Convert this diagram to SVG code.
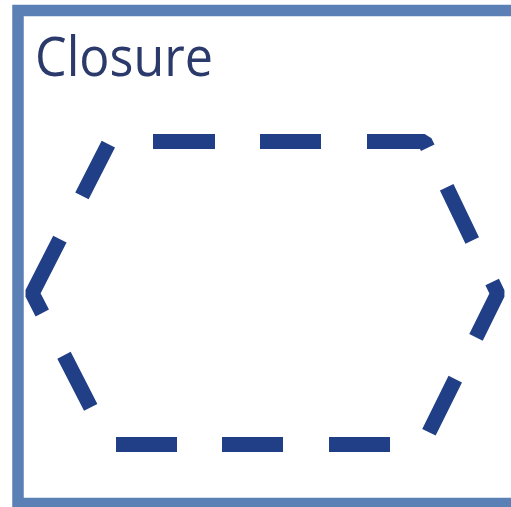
<svg xmlns="http://www.w3.org/2000/svg" width="511" height="507" viewBox="0 0 511 507">
  <style>
    .frame { fill: none; stroke: #5B80B5; stroke-width: 11.5; }
    .title { font-family: "Open Sans", "Liberation Sans", sans-serif; font-size: 55px; fill: #2B3A6B; }
    .dashed { fill: none; stroke: #213F87; stroke-width: 15; stroke-linejoin: bevel; stroke-linecap: butt; }
  </style>
  <rect width="511" height="507" fill="#FFFFFF"/>
  <g id="frame">
    <rect class="frame" x="18" y="10.5" width="520" height="493"/>
  </g>
  <g id="title">
    <text class="title" x="35" y="76" textLength="178" lengthAdjust="spacingAndGlyphs">Closure</text>
  </g>
  <g id="hexagon">
    <polygon class="dashed" pathLength="1305.6"
      points="109.7,141.5 424.7,141.5 497.7,293.5 422.9,444.5 109.8,444.5 32.2,293.4"
      stroke-dasharray="0 43.3 62 45 61 46 64.7 43.8 59 46 61.7 46.7 59.3 46.5 61 46 61 45 61 48 58.5 47.5 83 48.5 58.1 3"/>
  </g>
</svg>
